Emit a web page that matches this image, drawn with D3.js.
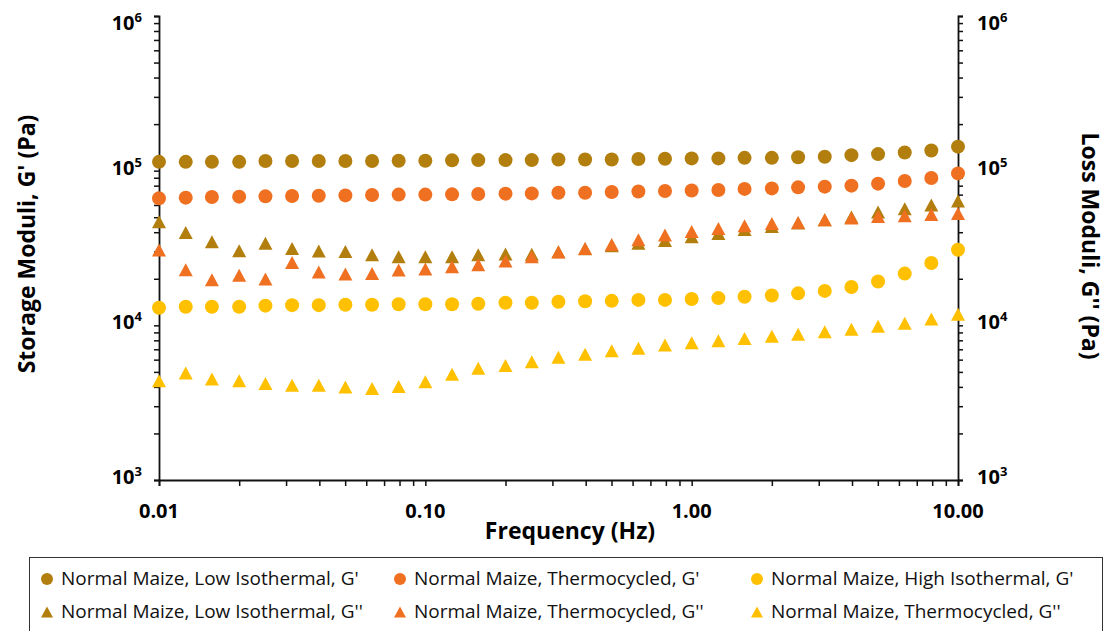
<!DOCTYPE html>
<html>
<head>
<meta charset="utf-8">
<script src="https://cdn.jsdelivr.net/npm/d3@7"></script>
<style>
  html, body { margin: 0; padding: 0; background: #fff; }
  svg { display: block; font-family: "Open Sans", "Noto Sans", sans-serif; }
</style>
</head>
<body>
<svg id="chart" width="1114" height="631"></svg>
<script>
// Frequency sweep points (Hz)
const frequency = [0.01, 0.0126, 0.0158, 0.02, 0.0251, 0.0316, 0.0398, 0.0501, 0.0631, 0.0794,
  0.1, 0.126, 0.158, 0.2, 0.251, 0.316, 0.398, 0.501, 0.631, 0.794,
  1, 1.26, 1.58, 2, 2.51, 3.16, 3.98, 5.01, 6.31, 7.94, 10];

// Storage modulus G' (Pa)
const lowIsoGp = [1.14e5, 1.14e5, 1.14e5, 1.14e5, 1.155e5, 1.155e5, 1.155e5, 1.155e5, 1.155e5, 1.16e5,
  1.16e5, 1.166e5, 1.17e5, 1.17e5, 1.17e5, 1.18e5, 1.18e5, 1.18e5, 1.19e5, 1.195e5,
  1.2e5, 1.2e5, 1.21e5, 1.21e5, 1.22e5, 1.23e5, 1.26e5, 1.28e5, 1.31e5, 1.35e5, 1.43e5];
const thermoGp = [6.62e4, 6.69e4, 6.76e4, 6.79e4, 6.82e4, 6.86e4, 6.89e4, 6.92e4, 6.96e4, 7.0e4,
  7.0e4, 7.03e4, 7.07e4, 7.10e4, 7.13e4, 7.2e4, 7.2e4, 7.28e4, 7.34e4, 7.39e4,
  7.45e4, 7.5e4, 7.62e4, 7.68e4, 7.8e4, 7.88e4, 8.0e4, 8.24e4, 8.58e4, 8.97e4, 9.6e4];
const highIsoGp = [1.30e4, 1.32e4, 1.32e4, 1.32e4, 1.34e4, 1.35e4, 1.35e4, 1.36e4, 1.36e4, 1.37e4,
  1.37e4, 1.37e4, 1.38e4, 1.40e4, 1.40e4, 1.42e4, 1.43e4, 1.44e4, 1.46e4, 1.46e4,
  1.48e4, 1.50e4, 1.53e4, 1.56e4, 1.61e4, 1.67e4, 1.77e4, 1.92e4, 2.16e4, 2.53e4, 3.08e4];

// Loss modulus G'' (Pa)
const lowIsoGpp = [4.68e4, 3.99e4, 3.47e4, 3.04e4, 3.40e4, 3.14e4, 3.02e4, 3.00e4, 2.86e4, 2.78e4,
  2.78e4, 2.78e4, 2.86e4, 2.89e4, 2.88e4, 2.99e4, 3.13e4, 3.27e4, 3.40e4, 3.54e4,
  3.74e4, 3.93e4, 4.17e4, 4.36e4, 4.58e4, 4.82e4, 5.01e4, 5.40e4, 5.68e4, 6.0e4, 6.37e4];
const thermoGpp = [3.07e4, 2.29e4, 1.97e4, 2.11e4, 1.99e4, 2.55e4, 2.21e4, 2.15e4, 2.16e4, 2.28e4,
  2.31e4, 2.39e4, 2.46e4, 2.61e4, 2.78e4, 2.98e4, 3.14e4, 3.33e4, 3.57e4, 3.84e4,
  4.05e4, 4.23e4, 4.41e4, 4.56e4, 4.63e4, 4.82e4, 4.94e4, 5.06e4, 5.11e4, 5.21e4, 5.29e4];
const thermo2Gpp = [4.38e3, 4.91e3, 4.49e3, 4.38e3, 4.20e3, 4.10e3, 4.10e3, 4.00e3, 3.90e3, 4.02e3,
  4.31e3, 4.83e3, 5.28e3, 5.49e3, 5.81e3, 6.21e3, 6.51e3, 6.84e3, 7.12e3, 7.45e3,
  7.71e3, 7.94e3, 8.21e3, 8.51e3, 8.77e3, 9.08e3, 9.45e3, 9.88e3, 1.03e4, 1.10e4, 1.18e4];

const seriesNames = [
  "Normal Maize, Low Isothermal, G'",
  "Normal Maize, Thermocycled, G'",
  "Normal Maize, High Isothermal, G'",
  "Normal Maize, Low Isothermal, G''",
  "Normal Maize, Thermocycled, G''",
  "Normal Maize, Thermocycled, G''"
];
const seriesValues = [lowIsoGp, thermoGp, highIsoGp, lowIsoGpp, thermoGpp, thermo2Gpp];
const seriesShapes = ["circle", "circle", "circle", "triangle", "triangle", "triangle"];
const seriesColors = ["#B27F0E", "#F07021", "#FFC000", "#B27F0E", "#F07021", "#FFC000"];

const xMajorLabels = ["0.01", "0.10", "1.00", "10.00"];
const yMajorExponents = ["3", "4", "5", "6"];

const svg = d3.select("#chart");
const plot = { left: 159, right: 958, top: 16, bottom: 480 };

const x = d3.scaleLog().domain([0.01, 10]).range([plot.left, plot.right]);
const yL = d3.scaleLog().domain([1e3, 1e6]).range([plot.bottom, plot.top]);
const yR = d3.scaleLog().domain([1e3, 1e6]).range([plot.bottom, plot.top]);

const tickFont = 'bold 20px "Open Sans"';
const titleFont = 'bold 23px "Open Sans"';

// Axes with log minor ticks
const xTicks = x.ticks();
const gx = svg.append("g").attr("transform", `translate(0,${plot.bottom})`)
  .call(d3.axisBottom(x).tickValues(xTicks).tickSize(6).tickFormat(""));

const yTicks = yL.ticks();
const gyl = svg.append("g").attr("transform", `translate(${plot.left},0)`)
  .call(d3.axisLeft(yL).tickValues(yTicks).tickSize(5).tickFormat(""));
const gyr = svg.append("g").attr("transform", `translate(${plot.right},0)`)
  .call(d3.axisRight(yR).tickValues(yTicks).tickSize(5).tickFormat(""));

[gx, gyl, gyr].forEach(g => {
  g.select(".domain").attr("stroke", "#111").attr("stroke-width", 1.8);
  g.selectAll(".tick line").attr("stroke", "#111").attr("stroke-width", 1.5);
});

// X tick labels
const xMajors = [0.01, 0.1, 1, 10];
svg.append("g").selectAll("text").data(xMajors).join("text")
  .attr("x", d => x(d)).attr("y", plot.bottom + 38)
  .attr("text-anchor", "middle")
  .style("font", tickFont).attr("fill", "#000")
  .text((d, i) => xMajorLabels[i]);

// Y tick labels, both sides, as 10 with superscript exponent
const yMajors = [1e3, 1e4, 1e5, 1e6];
function powerLabel(g, xPos, anchor, scale) {
  const t = g.selectAll("text").data(yMajors).join("text")
    .attr("x", xPos)
    .attr("y", d => Math.max(scale(d) + 4, 30))
    .attr("text-anchor", anchor)
    .style("font", tickFont).attr("fill", "#000");
  t.append("tspan").text("10");
  t.append("tspan").attr("dy", -8).style("font-size", "13px")
    .text((d, i) => yMajorExponents[i]);
}
powerLabel(svg.append("g"), 142, "end", yL);
powerLabel(svg.append("g"), 977, "start", yR);

// Axis titles
svg.append("text")
  .attr("transform", "translate(35,244) rotate(-90)")
  .attr("text-anchor", "middle")
  .style("font", titleFont).attr("fill", "#000")
  .text("Storage Moduli, G' (Pa)");
svg.append("text")
  .attr("transform", "translate(1082,246) rotate(90)")
  .attr("text-anchor", "middle")
  .style("font", titleFont).attr("fill", "#000")
  .text("Loss Moduli, G'' (Pa)");
svg.append("text")
  .attr("x", 570).attr("y", 539)
  .attr("text-anchor", "middle")
  .style("font", titleFont).attr("fill", "#000")
  .text("Frequency (Hz)");

// Marker paths
function trianglePath(w, h) {
  return `M0,${-h / 2}L${w / 2},${h / 2}L${-w / 2},${h / 2}Z`;
}

// Data markers: G' on the left axis, G'' on the right axis
seriesValues.forEach((vals, si) => {
  const yScale = si < 3 ? yL : yR;
  const g = svg.append("g").attr("fill", seriesColors[si]);
  const pts = frequency.map((f, i) => ({ f, v: vals[i] }));
  if (seriesShapes[si] === "circle") {
    g.selectAll("circle").data(pts).join("circle")
      .attr("cx", d => x(d.f)).attr("cy", d => yScale(d.v)).attr("r", 7);
  } else {
    g.selectAll("path").data(pts).join("path")
      .attr("transform", d => `translate(${x(d.f)},${yScale(d.v)})`)
      .attr("d", trianglePath(14, 13));
  }
});

// Legend
const legend = svg.append("g");
legend.append("rect")
  .attr("x", 29.5).attr("y", 557.5).attr("width", 1073).attr("height", 90)
  .attr("fill", "#fff").attr("stroke", "#333").attr("stroke-width", 1);
const colX = [61, 414, 771];
const rowY = [585, 618];
seriesNames.forEach((name, i) => {
  const col = i % 3, row = Math.floor(i / 3);
  const cx = colX[col] - 14, cy = rowY[row] - 6;
  if (seriesShapes[i] === "circle") {
    legend.append("circle").attr("cx", cx).attr("cy", cy).attr("r", 6).attr("fill", seriesColors[i]);
  } else {
    legend.append("path").attr("transform", `translate(${cx},${cy})`)
      .attr("d", trianglePath(12, 11)).attr("fill", seriesColors[i]);
  }
  legend.append("text").attr("x", colX[col]).attr("y", rowY[row])
    .style("font", '19px "Open Sans"').attr("fill", "#111").text(name);
});
</script>
</body>
</html>
